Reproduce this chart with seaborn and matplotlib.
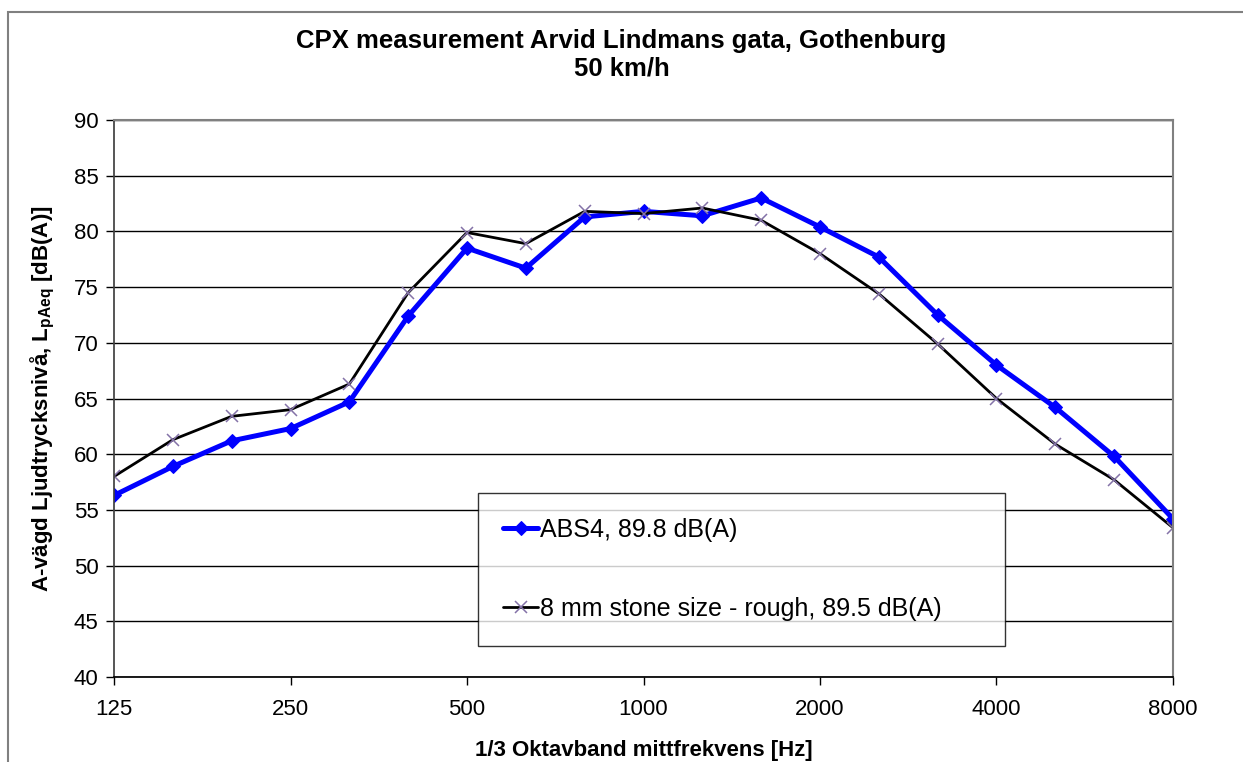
import pandas as pd
import seaborn as sns
import matplotlib.pyplot as plt
from matplotlib.patches import Rectangle

# 1/3 octave band centre frequencies
freqs = ['125', '160', '200', '250', '315', '400', '500', '630', '800', '1000',
         '1250', '1600', '2000', '2500', '3150', '4000', '5000', '6300', '8000']
abs4 = [56.3, 58.9, 61.2, 62.3, 64.7, 72.4, 78.5, 76.7, 81.3, 81.8,
        81.4, 83.0, 80.4, 77.7, 72.5, 68.0, 64.2, 59.8, 54.2]
rough8 = [58.0, 61.3, 63.4, 64.0, 66.3, 74.5, 79.9, 78.9, 81.8, 81.6,
          82.1, 81.0, 78.0, 74.4, 69.9, 65.0, 60.9, 57.7, 53.4]
tick_labels = ['125', '250', '500', '1000', '2000', '4000', '8000']

label_abs4 = 'ABS4, 89.8 dB(A)'
label_rough = '8 mm stone size - rough, 89.5 dB(A)'

df = pd.DataFrame({'freq': freqs, 'abs4': abs4, 'rough8': rough8})
df['pos'] = range(len(df))

sns.set_theme(style='white')
plt.rcParams['font.family'] = ['Liberation Sans', 'DejaVu Sans']
plt.rcParams['text.color'] = 'black'
plt.rcParams['axes.labelcolor'] = 'black'
plt.rcParams['xtick.color'] = 'black'
plt.rcParams['ytick.color'] = 'black'
plt.rcParams['mathtext.fontset'] = 'custom'
plt.rcParams['mathtext.rm'] = 'Liberation Sans:bold'
plt.rcParams['mathtext.bf'] = 'Liberation Sans:bold'
plt.rcParams['mathtext.it'] = 'Liberation Sans:bold'
plt.rcParams['mathtext.default'] = 'bf'

fig = plt.figure(figsize=(12.43, 7.62), dpi=100)
ax = fig.add_axes([114/1243, 1 - 677/762, (1173 - 114)/1243, (677 - 120)/762])

# outer chart border
fig.patches.append(Rectangle((8/1243, -0.1), 1.2, 1 - 12/762 + 0.1, transform=fig.transFigure,
                             fill=False, edgecolor='#808080', linewidth=1.5))

sns.lineplot(data=df, x='pos', y='abs4', ax=ax, color='#0000FF', linewidth=3.6,
             marker='D', markersize=7, markeredgecolor='#0000FF', markerfacecolor='#0000FF',
             label=label_abs4)
sns.lineplot(data=df, x='pos', y='rough8', ax=ax, color='black', linewidth=2.0,
             marker='x', markersize=9, markeredgecolor='#8472A8', markeredgewidth=1.1,
             label=label_rough)

ax.set_xlim(0, len(freqs) - 1)
ax.set_ylim(40, 90)
ax.set_yticks(range(40, 91, 5))
ax.set_xticks(df['pos'][::3])
ax.set_xticklabels(tick_labels)
ax.tick_params(axis='both', direction='out', length=6, width=1, color='black',
               labelsize=16, pad=5, bottom=True, left=True)
ax.tick_params(axis='x', pad=10)
ax.yaxis.grid(True, color='black', linewidth=1)
ax.xaxis.grid(False)
ax.set_axisbelow(True)
for side in ['top', 'right']:
    ax.spines[side].set_color('#808080')
    ax.spines[side].set_linewidth(1.5)
ax.spines['left'].set_color('#404040')
ax.spines['bottom'].set_color('black')

ax.set_xlabel('1/3 Oktavband mittfrekvens [Hz]', fontsize=16, fontweight='bold', labelpad=14)
ax.set_ylabel('A-vägd Ljudtrycksnivå, $L_{pAeq}$ [dB(A)]', fontsize=16, fontweight='bold',
              labelpad=12)

fig.text(0.5, 1 - 41/762, 'CPX measurement Arvid Lindmans gata, Gothenburg',
         ha='center', va='center', fontsize=18.5, fontweight='bold')
fig.text(0.5, 1 - 68/762, '50 km/h', ha='center', va='center', fontsize=18.5, fontweight='bold')

leg = ax.legend(loc='upper left',
                bbox_to_anchor=(478/1243, 1 - 646/762, 527/1243, 153/762),
                bbox_transform=fig.transFigure, mode='expand', fontsize=18, frameon=True,
                fancybox=False, edgecolor='black', borderpad=1.0, labelspacing=2.2,
                handlelength=1.4, handletextpad=0.1, borderaxespad=0)
leg.get_frame().set_linewidth(1.0)

fig.savefig('out.png', dpi=100)
